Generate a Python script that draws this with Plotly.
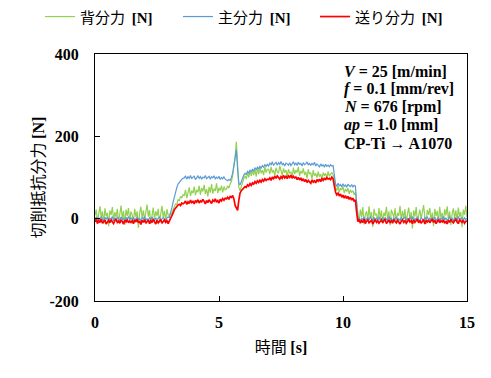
import numpy as np
import plotly.graph_objects as go

SAMPLE_STEP_S = 0.05  # sampling interval of the lists below [s]

# 背分力 (thrust force) [N], one value every 0.05 s from 0.00 to 15.00 s
thrust_force = [
    8, 22, -6, 15, 30, 2, 18, -12, 25, 6,
    14, -18, 20, 9, 28, -4, 16, 3, 24, -10,
    12, 32, 0, 19, -15, 22, 7, 26, -5, 17,
    10, -8, 24, 4, 18, -22, 14, 29, 1, 20,
    -3, 16, 34, 5, 21, -12, 11, 27, -1, 18,
    6, 24, -9, 15, 31, 3, 19, -6, 23, 9,
    8, 14, 12, 22, 28, 36, 34, 46, 44, 54, 50, 58,
    56, 70, 50, 66, 76, 55, 68, 62, 78, 57,
    70, 64, 80, 58, 74, 66, 82, 60, 72, 54,
    77, 63, 84, 61, 73, 67, 86, 62, 75, 68,
    80, 64, 78, 70,
    72, 80, 74, 84, 90, 105, 125, 150, 187, 110, 76, 68, 80, 92, 98, 104,
    96, 112, 100, 116, 104, 118, 106, 120, 102, 122,
    108, 124, 110, 118, 106, 126, 112, 120,
    120, 108, 126, 112, 118, 104, 124, 114, 110, 128,
    116, 106, 122, 112, 118, 102, 120, 110, 114, 100,
    124, 108, 118, 112, 126, 104, 116, 110, 122, 106,
    114, 98, 120, 108, 112, 96, 118, 104, 110, 100,
    114, 102, 108, 96, 112, 104, 110, 98, 115, 103,
    108, 112, 106,
    95, 76, 68, 80, 64, 74, 70, 78, 62, 72,
    66, 74, 60, 70, 64, 68, 58, 64,
    30,
    14, -8, 22, 4, 28, -14, 10, 18, -4, 30,
    2, 16, -20, 24, 8, 12, -6, 26, 0, 20,
    -12, 15, 6, 29, -2, 18, -16, 22, 10, 3,
    25, -9, 14, 7, 31, -5, 19, 1, 23, -11,
    12, 27, -3, 16, -24, 20, 5, 28, -7, 13,
    22, -1, 17, 33, 4, -13, 21, 9, 26, -4,
    15, -18, 24, 6, 19, -8, 29, 2, 14, -10,
    23, 8, 30, -3, 18, -15, 12, 25, 0, 20,
    -6, 27, 5, 16, -21, 22, 9, 31, 3,
]

# 主分力 (principal force) [N]
principal_force = [
    -1, 4, -5, 2, -3, 5, 0, -6, 3, -2,
    4, -4, 1, -1, 5, -5, 2, -3, 3, 0,
    -4, 4, -2, 1, -6, 3, -1, 5, -3, 2,
    -2, 3, -5, 0, 4, -4, 1, -6, 2, -1,
    5, -3, 0, -5, 3, -2, 4, -1, -6, 2,
    -3, 1, 5, -4, 0, 3, -2, -5, 2, 4,
    3, 12, 26, 40, 55, 66, 76, 84, 89, 93, 96, 98,
    99, 104, 96, 102, 98, 105, 97, 101, 103, 95,
    100, 104, 98, 102, 96, 101, 99, 105, 97, 100,
    103, 96, 102, 99, 104, 97, 101, 98, 103, 95,
    100, 97, 102, 96,
    94, 92, 95, 93, 100, 110, 128, 150, 167, 120, 86, 82, 90, 100, 106, 110,
    108, 115, 111, 118, 114, 120, 116, 123, 119, 125,
    121, 127, 123, 129, 125, 131, 127, 132,
    128, 135, 131, 138, 129, 134, 137, 130, 136, 132,
    139, 131, 134, 128, 135, 133, 130, 136, 129, 133,
    138, 131, 135, 129, 137, 132, 134, 128, 136, 131,
    133, 138, 130, 135, 129, 134, 131, 137, 128, 133,
    130, 126, 133, 128, 131, 125, 132, 127, 130, 126,
    131, 128, 129,
    105, 84, 78, 86, 80, 83, 77, 85, 79, 82,
    76, 84, 80, 78, 83, 77, 81, 79,
    40,
    -3, 3, -6, 1, -2, 4, -5, 0, 2, -4,
    5, -1, -6, 3, -2, 1, -4, 4, -3, 0,
    2, -5, 3, -1, -4, 5, -2, 1, -6, 2,
    -1, 4, -3, 0, -5, 3, -2, 1, 4, -4,
    0, -2, 3, -1, 5, -5, 1, -3, 4, -2,
    -6, 2, 0, -4, 3, -1, 5, -3, 1, -5,
    2, -2, 4, -6, 0, 3, -4, 1, -1, 5,
    -3, 2, -5, 0, 4, -2, 1, -6, 3, -1,
    -4, 5, -2, 0, 2, -5, 3, -3, 1,
]

# 送り分力 (feed force) [N]
feed_force = [
    -8, -2, -12, -5, -9, -1, -11, -6, -3, -13,
    -7, -4, -10, -2, -8, -12, -5, -1, -9, -6,
    -11, -3, -7, -13, -4, -8, -2, -10, -6, -9,
    -5, -12, -3, -8, -1, -10, -6, -14, -4, -9,
    -2, -11, -7, -3, -12, -5, -9, -1, -8, -13,
    -4, -10, -6, -2, -11, -7, -3, -9, -5, -12,
    -6, -2, 6, 14, 22, 26, 30, 33, 35, 32, 38, 36,
    38, 43, 35, 41, 37, 45, 39, 42, 36, 44,
    40, 46, 38, 43, 41, 47, 42, 36, 44, 39,
    46, 41, 37, 45, 42, 48, 40, 44, 38, 47,
    43, 49, 45, 50,
    48, 52, 47, 54, 52, 56, 48, 32, 24, 20, 45, 62, 68, 72, 74, 78,
    76, 82, 79, 85, 81, 87, 84, 90, 86, 92,
    88, 93, 89, 95, 91, 97, 93, 96,
    95, 99, 93, 101, 97, 103, 98, 104, 100, 96,
    102, 98, 105, 99, 103, 97, 104, 100, 106, 98,
    103, 99, 101, 95, 100, 94, 99, 92, 97, 90,
    95, 88, 93, 90, 86, 94, 89, 92, 87, 95,
    91, 96, 90, 97, 93, 99, 94, 100, 96, 98,
    95, 101, 97,
    80, 64, 58, 62, 55, 60, 52, 57, 50, 56,
    49, 54, 47, 52, 45, 50, 42, 46,
    15,
    -7, -2, -11, -5, -9, -1, -12, -6, -3, -10,
    -8, -4, -13, -6, -2, -9, -5, -11, -7, -3,
    -10, -6, -1, -12, -8, -4, -9, -5, -11, -2,
    -7, -10, -4, -8, -13, -6, -3, -9, -5, -11,
    -7, -2, -8, -5, -12, -3, -9, -6, -1, -10,
    -4, -11, -7, -2, -13, -5, -8, -3, -10, -6,
    -1, -9, -4, -12, -7, -2, -10, -5, -8, -3,
    -11, -6, -13, -4, -9, -2, -7, -10, -5, -1,
    -8, -12, -3, -6, -9, -4, -11, -7, -5,
]

series_names = ["背分力", "主分力", "送り分力"]
series_values = [thrust_force, principal_force, feed_force]
series_colors = ["#92D050", "#5B9BD5", "#FF0000"]
series_widths = [1.2, 1.2, 1.7]

x_ticks = [0, 5, 10, 15]
y_ticks = [-200, 0, 200, 400]
y_tick_text = ["-200", "0", "200", "400"]

condition_lines = [
    "<i>V</i> = 25 [m/min]",
    "<i>f</i> = 0.1 [mm/rev]",
    "<i>N</i> = 676 [rpm]",
    "<i>ap</i> = 1.0 [mm]",
    "CP-Ti → A1070",
]

SERIF = "Liberation Serif"
JP = "Noto Sans CJK JP"
BR = "<span style=\"font-family:'Liberation Serif'\"><b>{}</b></span>"

for v in series_values:
    assert len(v) == 301, len(v)

# the page body adds an 8 px offset; the figure is sized to compensate
W, H, OFF = 491 - 8, 378 - 8, 8
PL, PT, PR, PB = 95, 54, 467, 301  # wanted plot box in window pixels
legend_left_px = [40, 178, 315]     # left edge of each legend entry in window pixels

fig = go.Figure()
legend_ids = ["legend", "legend2", "legend3"]
for name, vals, col, w, lid in zip(series_names, series_values, series_colors,
                                   series_widths, legend_ids):
    t = np.round(np.arange(len(vals)) * SAMPLE_STEP_S, 3)
    fig.add_trace(go.Scatter(
        x=t, y=vals, mode="lines", line=dict(color=col, width=w),
        name=f"<span style=\"font-size:15px\">{name}  " + BR.format("[N]") + "</span>",
        legend=lid, showlegend=True,
    ))

for i, line in enumerate(condition_lines):
    fig.add_annotation(
        text=f"<b>{line}</b>", xref="paper", yref="paper",
        x=(342 - PL) / (PR - PL), xanchor="left",
        y=(PB - (71 + 18 * i)) / (PB - PT), yanchor="middle",
        showarrow=False, font=dict(family=SERIF, size=16, color="black"),
    )

# y axis title
fig.add_annotation(
    text="切削抵抗分力 " + BR.format("[N]"), textangle=-90,
    xref="paper", yref="paper", x=(36 - PL) / (PR - PL), y=0.5,
    xanchor="center", yanchor="middle", showarrow=False,
    font=dict(family=JP, size=16, color="black"),
)

legend_common = dict(
    orientation="h", xref="container", xanchor="left",
    y=1 + 37 / (PB - PT), yanchor="middle",
    font=dict(family=JP, size=17, color="black"),
    bgcolor="rgba(0,0,0,0)",
)
fig.update_layout(
    width=W, height=H, showlegend=True,
    margin=dict(l=PL - OFF, r=W - (PR - OFF), t=PT - OFF, b=H - (PB - OFF), autoexpand=False),
    plot_bgcolor="white", paper_bgcolor="white",
    font=dict(family=JP, color="black"),
    legend=dict(legend_common, x=(legend_left_px[0] - OFF) / W),
    legend2=dict(legend_common, x=(legend_left_px[1] - OFF) / W),
    legend3=dict(legend_common, x=(legend_left_px[2] - OFF) / W),
)
fig.update_xaxes(
    range=[0, 15], tickvals=x_ticks, ticks="inside", ticklen=5,
    tickcolor="black", showline=True, linecolor="black", linewidth=1,
    mirror=True, showgrid=False, zeroline=False, automargin=False,
    tickfont=dict(family=SERIF, size=16, color="black", weight="bold"),
    ticklabelstandoff=7,
    title=dict(text="時間 " + BR.format("[s]"),
               font=dict(family=JP, size=16, color="black"), standoff=11),
)
fig.update_yaxes(
    range=[-200, 400], tickvals=y_ticks, ticktext=y_tick_text, ticks="inside", ticklen=5,
    tickcolor="black", showline=True, linecolor="black", linewidth=1,
    mirror=True, showgrid=False, zeroline=False, automargin=False,
    tickfont=dict(family=SERIF, size=16, color="black", weight="bold"),
    ticklabelstandoff=12,
)

fig.write_html("out.html")
